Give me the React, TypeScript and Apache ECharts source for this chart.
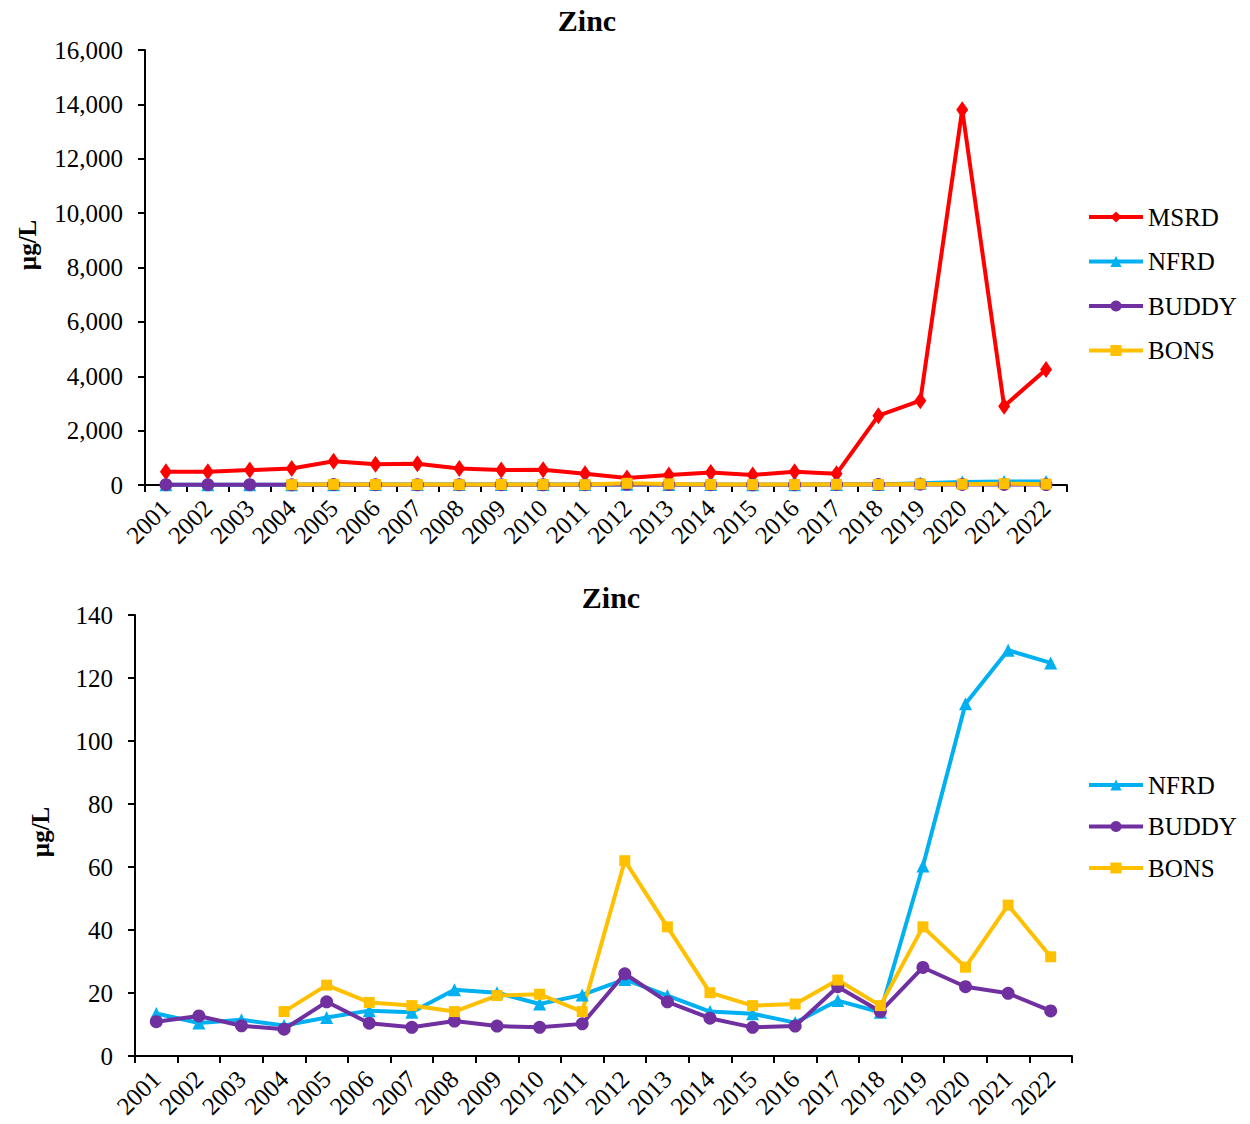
import React, { useEffect, useRef } from "react";
import * as echarts from "echarts";

// Sampling years
const years = [
  "2001", "2002", "2003", "2004", "2005", "2006", "2007", "2008", "2009", "2010", "2011",
  "2012", "2013", "2014", "2015", "2016", "2017", "2018", "2019", "2020", "2021", "2022",
];

// Zinc concentrations, µg/L
const msrd = [490, 490, 550, 610, 870, 760, 780, 610, 550, 560, 410, 260, 370, 460, 370, 490, 410, 2550, 3100, 13800, 2900, 4250];
const nfrd = [13.5, 10.5, 11.5, 9.7, 12.2, 14.4, 13.9, 21, 20.1, 16.5, 19.4, 24.3, 19.2, 14.1, 13.4, 10.6, 17.6, 13.9, 60.3, 111.8, 128.8, 124.8];
const buddy = [10.9, 12.7, 9.6, 8.5, 17.2, 10.4, 9.1, 11.1, 9.5, 9.1, 10.2, 26.1, 17.2, 12.0, 9.1, 9.5, 22.0, 14.1, 28.1, 22.0, 19.9, 14.3];
const bons = [null, null, null, 14.1, 22.5, 17.0, 16.0, 14.1, 19.2, 19.6, 14.1, 62.0, 41.0, 20.1, 16.0, 16.5, 24.1, 16.0, 41.0, 28.2, 47.9, 31.5];

// Axis tick settings
const topTicks = { min: 0, max: 16000, interval: 2000 };
const bottomTicks = { min: 0, max: 140, interval: 20 };

const FONT = '"Liberation Serif", "Times New Roman", serif';

const seriesStyle: Record<string, { color: string; symbol: string; symbolSize: number | number[] }> = {
  MSRD: { color: "#FF0000", symbol: "diamond", symbolSize: [12, 17] },
  NFRD: { color: "#00B0F0", symbol: "triangle", symbolSize: 13 },
  BUDDY: { color: "#7030A0", symbol: "circle", symbolSize: 13 },
  BONS: { color: "#FFC000", symbol: "rect", symbolSize: 11 },
};

function lineSeries(name: string, data: (number | null)[], gridIndex: number) {
  const s = seriesStyle[name];
  return {
    name,
    type: "line",
    data,
    xAxisIndex: gridIndex,
    yAxisIndex: gridIndex,
    symbol: s.symbol,
    symbolSize: s.symbolSize,
    showAllSymbol: true,
    connectNulls: false,
    itemStyle: { color: s.color },
    lineStyle: { color: s.color, width: 4 },
    emphasis: { disabled: true },
  };
}

function xAxis(gridIndex: number) {
  return {
    type: "category",
    gridIndex,
    data: years,
    boundaryGap: true,
    axisLine: { show: true, lineStyle: { color: "#000", width: 2 } },
    axisTick: { show: true, interval: 0, length: 7, lineStyle: { color: "#000", width: 2 } },
    axisLabel: { interval: 0, rotate: 45, margin: 19, color: "#000", fontFamily: FONT, fontSize: 25 },
    splitLine: { show: false },
  };
}

function yAxis(gridIndex: number, ticks: { min: number; max: number; interval: number }) {
  return {
    type: "value",
    gridIndex,
    min: ticks.min,
    max: ticks.max,
    interval: ticks.interval,
    axisLine: { show: true, lineStyle: { color: "#000", width: 2 } },
    axisTick: { show: true, length: 7, lineStyle: { color: "#000", width: 2 } },
    axisLabel: {
      margin: 22,
      color: "#000",
      fontFamily: FONT,
      fontSize: 25,
      formatter: (v: number) => v.toLocaleString("en-US"),
    },
    splitLine: { show: false },
  };
}

function legend(names: string[], top: number, gap: number) {
  return {
    orient: "vertical",
    left: 1082,
    top,
    itemWidth: 54,
    itemHeight: 14,
    itemGap: gap,
    selectedMode: false,
    data: names,
    lineStyle: { width: 4 },
    textStyle: { color: "#000", fontFamily: FONT, fontSize: 25, lineHeight: 25 },
  };
}

function label(text: string, x: number, y: number, size: number, rotation = 0) {
  return {
    type: "text",
    x,
    y,
    rotation,
    silent: true,
    style: {
      text,
      fill: "#000",
      fontFamily: FONT,
      fontSize: size,
      fontWeight: "bold",
      align: "center",
      verticalAlign: "middle",
    },
  };
}

export default function App() {
  const ref = useRef<HTMLDivElement>(null);

  useEffect(() => {
    const chart = echarts.init(ref.current!, null, { renderer: "svg" });
    chart.setOption({
      animation: false,
      backgroundColor: "#fff",
      grid: [
        { left: 145, top: 50, width: 922, height: 435, containLabel: false },
        { left: 135, top: 615, width: 937, height: 441, containLabel: false },
      ],
      xAxis: [xAxis(0), xAxis(1)],
      yAxis: [yAxis(0, topTicks), yAxis(1, bottomTicks)],
      legend: [
        legend(["MSRD", "NFRD", "BUDDY", "BONS"], 199.5, 19.5),
        legend(["NFRD", "BUDDY", "BONS"], 767.5, 16.5),
      ],
      graphic: [
        label("Zinc", 587, 20, 30),
        label("Zinc", 611, 597, 30),
        label("µg/L", 27, 245, 25, Math.PI / 2),
        label("µg/L", 40, 832, 25, Math.PI / 2),
      ],
      series: [
        lineSeries("MSRD", msrd, 0),
        lineSeries("NFRD", nfrd, 0),
        lineSeries("BUDDY", buddy, 0),
        lineSeries("BONS", bons, 0),
        lineSeries("NFRD", nfrd, 1),
        lineSeries("BUDDY", buddy, 1),
        lineSeries("BONS", bons, 1),
      ],
    });
    return () => chart.dispose();
  }, []);

  return (
    <div
      ref={ref}
      style={{ position: "absolute", left: 0, top: 0, width: 1250, height: 1124 }}
    />
  );
}
